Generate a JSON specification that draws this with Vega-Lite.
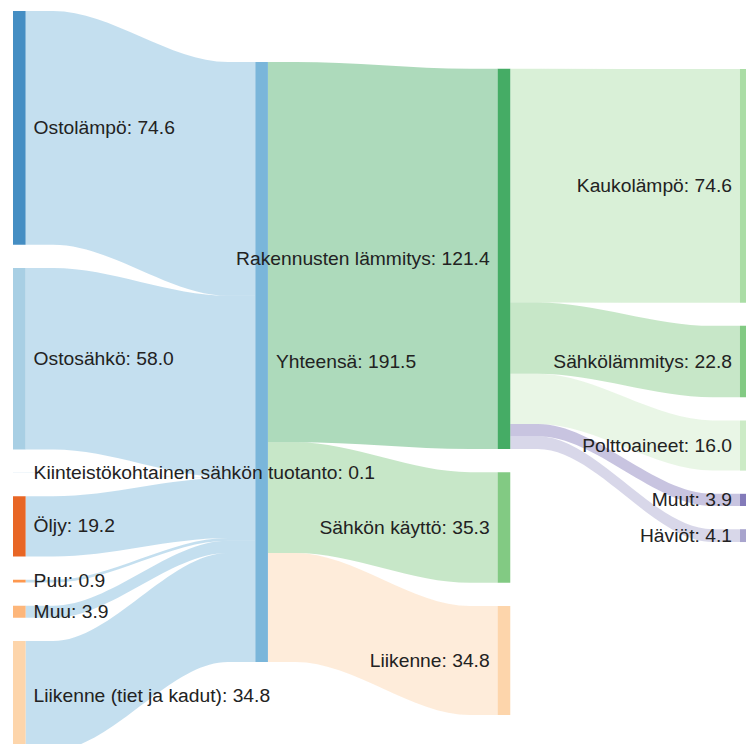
{
  "$schema": "https://vega.github.io/schema/vega-lite/v6.json",
  "width": 746,
  "height": 744,
  "autosize": "none",
  "padding": 0,
  "config": {"view": {"stroke": null}},
  "datasets": {
    "nodes": [
      {"name": "Ostolämpö", "col": 0, "order": 0, "value": 74.6},
      {"name": "Ostosähkö", "col": 0, "order": 1, "value": 58.0},
      {"name": "Kiinteistökohtainen sähkön tuotanto", "col": 0, "order": 2, "value": 0.1},
      {"name": "Öljy", "col": 0, "order": 3, "value": 19.2},
      {"name": "Puu", "col": 0, "order": 4, "value": 0.9},
      {"name": "Muu", "col": 0, "order": 5, "value": 3.9},
      {"name": "Liikenne (tiet ja kadut)", "col": 0, "order": 6, "value": 34.8},
      {"name": "Yhteensä", "col": 1, "order": 0, "value": 191.5},
      {"name": "Rakennusten lämmitys", "col": 2, "order": 0, "value": 121.4},
      {"name": "Sähkön käyttö", "col": 2, "order": 1, "value": 35.3},
      {"name": "Liikenne", "col": 2, "order": 2, "value": 34.8},
      {"name": "Kaukolämpö", "col": 3, "order": 0, "value": 74.6},
      {"name": "Sähkölämmitys", "col": 3, "order": 1, "value": 22.8},
      {"name": "Polttoaineet", "col": 3, "order": 2, "value": 16.0},
      {"name": "Muut", "col": 3, "order": 3, "value": 3.9},
      {"name": "Häviöt", "col": 3, "order": 4, "value": 4.1}
    ],
    "links": [
      {"source": "Ostolämpö", "target": "Yhteensä", "value": 74.6},
      {"source": "Ostosähkö", "target": "Yhteensä", "value": 58.0},
      {"source": "Kiinteistökohtainen sähkön tuotanto", "target": "Yhteensä", "value": 0.1},
      {"source": "Öljy", "target": "Yhteensä", "value": 19.2},
      {"source": "Puu", "target": "Yhteensä", "value": 0.9},
      {"source": "Muu", "target": "Yhteensä", "value": 3.9},
      {"source": "Liikenne (tiet ja kadut)", "target": "Yhteensä", "value": 34.8},
      {"source": "Yhteensä", "target": "Rakennusten lämmitys", "value": 121.4},
      {"source": "Yhteensä", "target": "Sähkön käyttö", "value": 35.3},
      {"source": "Yhteensä", "target": "Liikenne", "value": 34.8},
      {"source": "Rakennusten lämmitys", "target": "Kaukolämpö", "value": 74.6},
      {"source": "Rakennusten lämmitys", "target": "Sähkölämmitys", "value": 22.8},
      {"source": "Rakennusten lämmitys", "target": "Polttoaineet", "value": 16.0},
      {"source": "Rakennusten lämmitys", "target": "Muut", "value": 3.9},
      {"source": "Rakennusten lämmitys", "target": "Häviöt", "value": 4.1}
    ]
  },
  "layer": [
    {
      "data": {"name": "links"},
      "transform": [
        {"lookup": "source", "from": {"data": {"name": "nodes"}, "key": "name", "fields": ["col", "order"]}, "as": ["sCol", "sIdx"]},
        {"lookup": "target", "from": {"data": {"name": "nodes"}, "key": "name", "fields": ["col", "order"]}, "as": ["tCol", "tIdx"]},
        {"window": [{"op": "sum", "field": "value", "as": "sCum"}], "groupby": ["sCol"], "sort": [{"field": "sIdx", "order": "ascending"}, {"field": "tIdx", "order": "ascending"}], "frame": [null, 0]},
        {"window": [{"op": "sum", "field": "value", "as": "tCum"}], "groupby": ["tCol"], "sort": [{"field": "tIdx", "order": "ascending"}, {"field": "sIdx", "order": "ascending"}], "frame": [null, 0]},
        {"calculate": "(datum.sCol==0?0:datum.sCol==1?16.28:datum.sCol==2?18.42:18.5) + datum.sCum - datum.value + 7.4*datum.sIdx", "as": "sy"},
        {"calculate": "(datum.tCol==0?0:datum.tCol==1?16.28:datum.tCol==2?18.42:18.5) + datum.tCum - datum.value + 7.4*datum.tIdx", "as": "ty"},
        {"calculate": "datum.source + ' → ' + datum.target", "as": "id"},
        {"calculate": "[0, 1, 2, 3]", "as": "pt"},
        {"flatten": ["pt"]},
        {"calculate": "datum.sCol + 0.052", "as": "sx"},
        {"calculate": "datum.pt==0 ? datum.sx : datum.pt==1 ? datum.sx + 0.12*(datum.tCol - datum.sx) : datum.pt==2 ? datum.sx + 0.88*(datum.tCol - datum.sx) : datum.tCol", "as": "px"},
        {"calculate": "datum.pt < 2 ? datum.sy : datum.ty", "as": "top"},
        {"calculate": "datum.top + datum.value", "as": "bot"}
      ],
      "mark": {"type": "area", "interpolate": "monotone", "opacity": 0.4},
      "encoding": {
        "x": {"field": "px", "type": "quantitative", "scale": {"domain": [-0.05365, 3.0248], "nice": false, "zero": false}, "axis": null},
        "y": {"field": "top", "type": "quantitative", "stack": null, "scale": {"domain": [-3.511, 233.96], "reverse": true, "nice": false, "zero": false}, "axis": null},
        "y2": {"field": "bot"},
        "detail": {"field": "id", "type": "nominal"},
        "color": {
          "field": "target", "type": "nominal", "legend": null,
          "scale": {
            "domain": ["Ostolämpö", "Ostosähkö", "Kiinteistökohtainen sähkön tuotanto", "Öljy", "Puu", "Muu", "Liikenne (tiet ja kadut)", "Yhteensä", "Rakennusten lämmitys", "Sähkön käyttö", "Liikenne", "Kaukolämpö", "Sähkölämmitys", "Polttoaineet", "Muut", "Häviöt"],
            "range": ["#3182bd", "#9ecae1", "#c6dbef", "#e6550d", "#fd8d3c", "#fdae6b", "#fdd0a2", "#6baed6", "#31a354", "#74c476", "#fdd0a2", "#a1d99b", "#74c476", "#c7e9c0", "#756bb1", "#9e9ac8"]
          }
        }
      }
    },
    {
      "data": {"name": "nodes"},
      "transform": [
        {"window": [{"op": "sum", "field": "value", "as": "cum"}], "groupby": ["col"], "sort": [{"field": "order", "order": "ascending"}], "frame": [null, 0]},
        {"calculate": "(datum.col==0?0:datum.col==1?16.28:datum.col==2?18.42:18.5) + datum.cum - datum.value + 7.4*datum.order", "as": "y0"},
        {"calculate": "datum.y0 + datum.value", "as": "y1"},
        {"calculate": "datum.y0 + datum.value/2", "as": "ym"},
        {"calculate": "datum.col + 0.052", "as": "x1"},
        {"calculate": "datum.name + ': ' + format(datum.value, '.1f')", "as": "label"}
      ],
      "layer": [
        {
          "mark": {"type": "rect", "opacity": 0.9},
          "encoding": {
            "x": {"field": "col", "type": "quantitative", "scale": {"domain": [-0.05365, 3.0248], "nice": false, "zero": false}, "axis": null},
            "x2": {"field": "x1"},
            "y": {"field": "y0", "type": "quantitative", "scale": {"domain": [-3.511, 233.96], "reverse": true, "nice": false, "zero": false}, "axis": null},
            "y2": {"field": "y1"},
            "color": {
              "field": "name", "type": "nominal", "legend": null,
              "scale": {
                "domain": ["Ostolämpö", "Ostosähkö", "Kiinteistökohtainen sähkön tuotanto", "Öljy", "Puu", "Muu", "Liikenne (tiet ja kadut)", "Yhteensä", "Rakennusten lämmitys", "Sähkön käyttö", "Liikenne", "Kaukolämpö", "Sähkölämmitys", "Polttoaineet", "Muut", "Häviöt"],
                "range": ["#3182bd", "#9ecae1", "#c6dbef", "#e6550d", "#fd8d3c", "#fdae6b", "#fdd0a2", "#6baed6", "#31a354", "#74c476", "#fdd0a2", "#a1d99b", "#74c476", "#c7e9c0", "#756bb1", "#9e9ac8"]
              }
            }
          }
        },
        {
          "transform": [{"filter": "datum.col < 2"}],
          "mark": {"type": "text", "align": "left", "baseline": "middle", "dx": 8, "font": "Liberation Sans", "fontSize": 19.25, "color": "#222222"},
          "encoding": {
            "x": {"field": "x1", "type": "quantitative", "scale": {"domain": [-0.05365, 3.0248], "nice": false, "zero": false}, "axis": null},
            "y": {"field": "ym", "type": "quantitative", "scale": {"domain": [-3.511, 233.96], "reverse": true, "nice": false, "zero": false}, "axis": null},
            "text": {"field": "label", "type": "nominal"}
          }
        },
        {
          "transform": [{"filter": "datum.col >= 2"}],
          "mark": {"type": "text", "align": "right", "baseline": "middle", "dx": -8, "font": "Liberation Sans", "fontSize": 19.25, "color": "#222222"},
          "encoding": {
            "x": {"field": "col", "type": "quantitative", "scale": {"domain": [-0.05365, 3.0248], "nice": false, "zero": false}, "axis": null},
            "y": {"field": "ym", "type": "quantitative", "scale": {"domain": [-3.511, 233.96], "reverse": true, "nice": false, "zero": false}, "axis": null},
            "text": {"field": "label", "type": "nominal"}
          }
        }
      ]
    }
  ]
}
